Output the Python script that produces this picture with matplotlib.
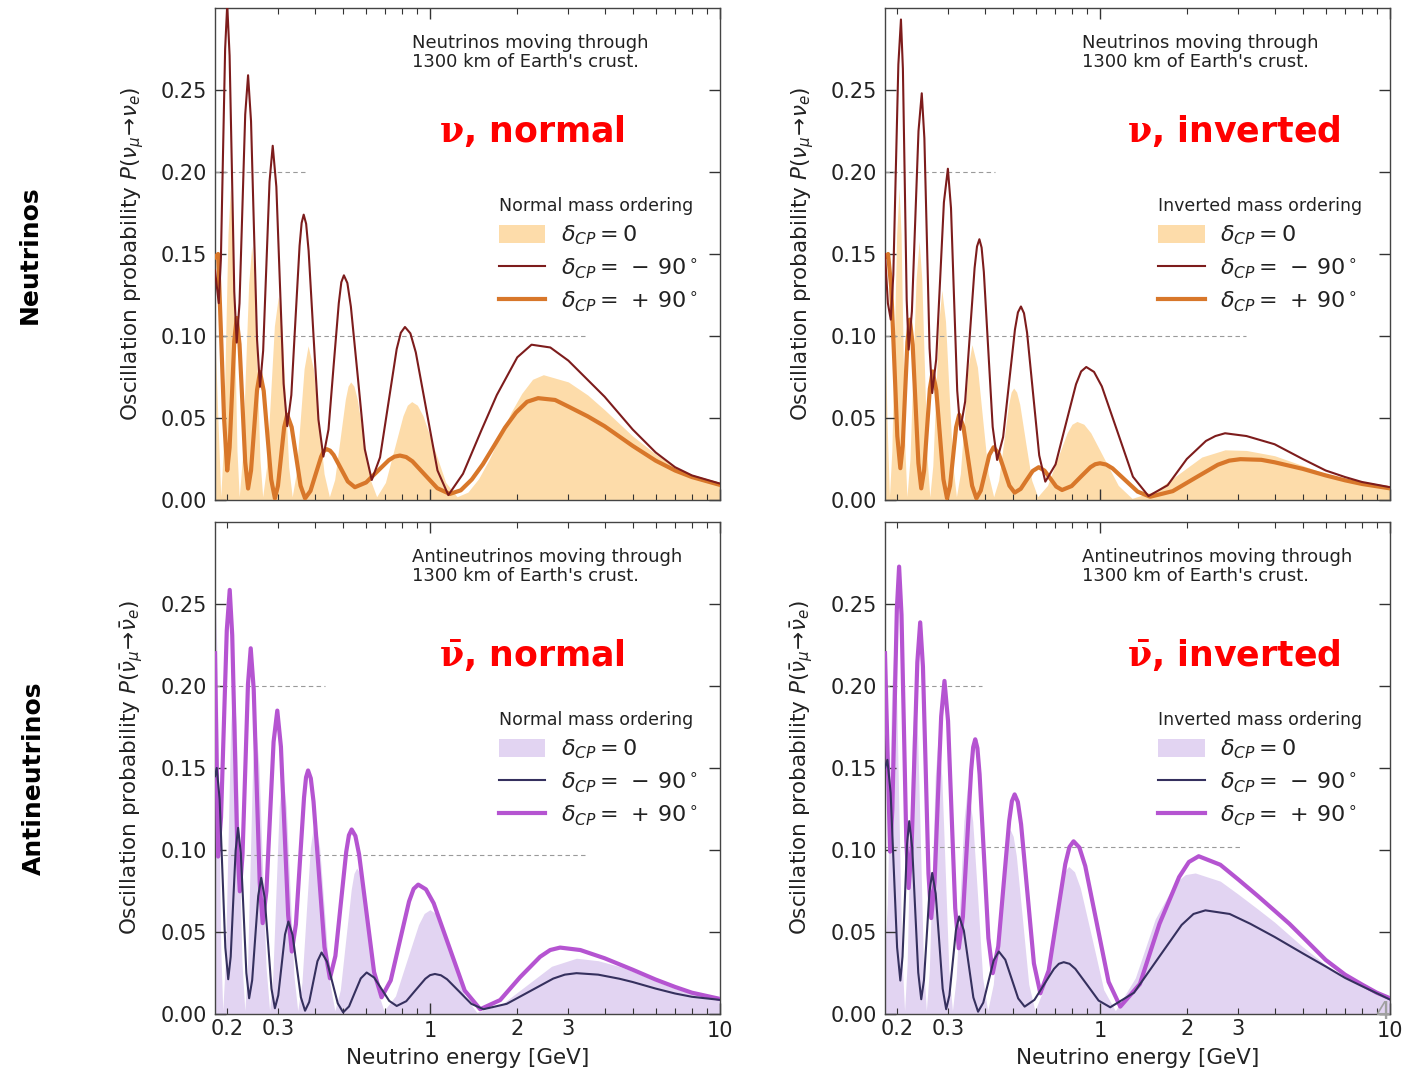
import numpy as np
import matplotlib
matplotlib.use("Agg")
import matplotlib.pyplot as plt
from matplotlib.ticker import FixedLocator, FuncFormatter
from matplotlib.patches import Patch
from matplotlib.lines import Line2D

# (energy [GeV], probability) samples for each curve

# ---- neutrinos, normal ordering
nu_no_m90 = [(0.1815, 0.14), (0.187, 0.12), (0.1902, 0.147), (0.1934, 0.211), (0.1967, 0.275), (0.200, 0.302),
             (0.2038, 0.271), (0.2077, 0.199), (0.2115, 0.127), (0.2156, 0.096), (0.2205, 0.120), (0.2256, 0.178),
             (0.2307, 0.235), (0.236, 0.259), (0.2416, 0.231), (0.2474, 0.164), (0.2534, 0.098), (0.2594, 0.069),
             (0.2660, 0.091), (0.2729, 0.143), (0.2798, 0.194), (0.287, 0.216), (0.2954, 0.191), (0.3040, 0.131),
             (0.3129, 0.071), (0.322, 0.045), (0.3327, 0.064), (0.3438, 0.110), (0.3552, 0.155), (0.3611, 0.169),
             (0.367, 0.174), (0.3742, 0.1684), (0.3816, 0.152), (0.3968, 0.100), (0.4126, 0.049), (0.429, 0.0265),
             (0.4469, 0.043), (0.4655, 0.082), (0.4849, 0.120), (0.4948, 0.1328), (0.505, 0.137), (0.5191, 0.1323),
             (0.5337, 0.118), (0.5640, 0.075), (0.5961, 0.031), (0.63, 0.0122), (0.6729, 0.026), (0.7188, 0.059),
             (0.7678, 0.092), (0.7934, 0.102), (0.82, 0.1055), (0.8561, 0.1016), (0.8937, 0.090), (0.974, 0.054),
             (1.0616, 0.018), (1.157, 0.003), (1.3, 0.016), (1.5, 0.042), (1.7, 0.064), (2.0, 0.087), (2.24, 0.0947),
             (2.6, 0.093), (3.0, 0.085), (4.0, 0.063), (5.0, 0.043), (6.0, 0.029), (7.0, 0.020), (8.0, 0.015),
             (10.0, 0.010)]
nu_no_p90 = [(0.1815, 0.148), (0.186, 0.15), (0.1905, 0.10), (0.195, 0.05), (0.200, 0.018), (0.2038, 0.032),
             (0.2077, 0.0645), (0.2115, 0.097), (0.2156, 0.111), (0.2205, 0.095), (0.2256, 0.059), (0.2307, 0.023),
             (0.236, 0.007), (0.2416, 0.018), (0.2474, 0.0425), (0.2534, 0.067), (0.2594, 0.078), (0.2672, 0.0665),
             (0.2752, 0.0395), (0.2835, 0.0126), (0.292, 0.001), (0.2992, 0.0087), (0.3066, 0.0265), (0.3143, 0.0444),
             (0.322, 0.052), (0.3336, 0.0444), (0.3456, 0.0265), (0.3581, 0.0087), (0.371, 0.001), (0.3872, 0.0055),
             (0.4040, 0.016), (0.4217, 0.0265), (0.4308, 0.0299), (0.44, 0.031), (0.4525, 0.0301), (0.4654, 0.0275),
             (0.4924, 0.0194), (0.5209, 0.0113), (0.551, 0.0078), (0.6026, 0.0107), (0.6589, 0.0175), (0.7205, 0.0242),
             (0.7534, 0.0264), (0.788, 0.0271), (0.8279, 0.0262), (0.8699, 0.0236), (0.9602, 0.0154), (1.060, 0.0072),
             (1.17, 0.0037), (1.277, 0.0059), (1.394, 0.0125), (1.522, 0.0218), (1.662, 0.0329), (1.814, 0.0441),
             (1.980, 0.0533), (2.162, 0.0599), (2.36, 0.0621), (2.7, 0.061), (3.0, 0.057), (3.5, 0.051), (4.0, 0.045),
             (5.0, 0.033), (6.0, 0.024), (7.0, 0.018), (8.0, 0.014), (10.0, 0.0092)]
nu_no_0 = [(0.1815, 0.10), (0.1857, 0.05), (0.19, 0.002), (0.1936, 0.030), (0.1974, 0.096), (0.2012, 0.162),
           (0.205, 0.19), (0.2087, 0.162), (0.2124, 0.096), (0.2161, 0.030), (0.22, 0.002), (0.2255, 0.025),
           (0.2312, 0.0785), (0.2371, 0.132), (0.243, 0.155), (0.2484, 0.132), (0.2538, 0.0785), (0.2593, 0.025),
           (0.265, 0.002), (0.2733, 0.020), (0.2820, 0.063), (0.2908, 0.106), (0.30, 0.124), (0.3083, 0.106),
           (0.3170, 0.063), (0.3259, 0.020), (0.335, 0.002), (0.3457, 0.016), (0.3568, 0.048), (0.3682, 0.080),
           (0.38, 0.094), (0.3964, 0.080), (0.4135, 0.048), (0.4314, 0.016), (0.45, 0.002), (0.4694, 0.0125),
           (0.4897, 0.037), (0.5109, 0.0615), (0.5218, 0.0694), (0.533, 0.072), (0.5469, 0.0694), (0.5614, 0.0615),
           (0.5909, 0.037), (0.6222, 0.0125), (0.655, 0.002), (0.7022, 0.0107), (0.7527, 0.031), (0.8069, 0.0513),
           (0.8356, 0.0578), (0.865, 0.060), (0.9048, 0.0578), (0.9465, 0.0513), (1.0357, 0.031), (1.1333, 0.0107),
           (1.24, 0.002), (1.3509, 0.0048), (1.4716, 0.013), (1.6032, 0.025), (1.7466, 0.0392), (1.9029, 0.0534),
           (2.0728, 0.065), (2.2582, 0.0736), (2.46, 0.0764), (3.0, 0.072), (3.5, 0.064), (4.0, 0.055), (5.0, 0.039),
           (6.0, 0.028), (7.0, 0.020), (8.0, 0.015), (10.0, 0.0095)]

# ---- neutrinos, inverted ordering
nu_io_m90 = [(0.1815, 0.15), (0.1857, 0.12), (0.19, 0.11), (0.1939, 0.1375), (0.1978, 0.2015), (0.2018, 0.2655),
             (0.206, 0.293), (0.2092, 0.263), (0.2124, 0.1924), (0.2156, 0.122), (0.219, 0.0917), (0.2247, 0.115),
             (0.2307, 0.170), (0.2368, 0.225), (0.243, 0.248), (0.2481, 0.2206), (0.2533, 0.1566), (0.2585, 0.0926),
             (0.264, 0.0652), (0.2725, 0.0857), (0.2810, 0.1336), (0.2897, 0.1815), (0.299, 0.202), (0.3065, 0.178),
             (0.3141, 0.1224), (0.3220, 0.0667), (0.33, 0.0428), (0.3429, 0.060), (0.3560, 0.101), (0.3697, 0.1416),
             (0.3768, 0.1546), (0.384, 0.159), (0.3908, 0.1539), (0.3978, 0.139), (0.4120, 0.0917), (0.4267, 0.0446),
             (0.442, 0.0244), (0.4636, 0.0384), (0.4858, 0.0712), (0.5093, 0.104), (0.5214, 0.1144), (0.534, 0.118),
             (0.5471, 0.1139), (0.5607, 0.102), (0.5883, 0.0646), (0.6174, 0.0272), (0.648, 0.0112), (0.7029, 0.0217),
             (0.7624, 0.0462), (0.8270, 0.0706), (0.8612, 0.0784), (0.897, 0.0811), (0.9541, 0.0781), (1.0149, 0.0693),
             (1.1483, 0.0418), (1.2992, 0.0142), (1.47, 0.0024), (1.7113, 0.0090), (1.9923, 0.025), (2.3192, 0.036),
             (2.5, 0.039), (2.7, 0.0407), (3.2, 0.039), (4.0, 0.034), (5.0, 0.025), (6.0, 0.018), (7.0, 0.014),
             (8.0, 0.011), (10.0, 0.0078)]
nu_io_p90 = [(0.1815, 0.148), (0.186, 0.15), (0.1906, 0.130), (0.1953, 0.085), (0.2001, 0.039), (0.205, 0.0194),
             (0.2089, 0.033), (0.2128, 0.0647), (0.2169, 0.0964), (0.221, 0.110), (0.2261, 0.0946), (0.2313, 0.0586),
             (0.2366, 0.0225), (0.242, 0.0071), (0.2475, 0.0178), (0.2532, 0.0428), (0.2591, 0.0677), (0.265, 0.0784),
             (0.2727, 0.0668), (0.2806, 0.0397), (0.2886, 0.0126), (0.297, 0.001), (0.3042, 0.0087), (0.3116, 0.0265),
             (0.3192, 0.0444), (0.327, 0.052), (0.3384, 0.0444), (0.3502, 0.0265), (0.3624, 0.0087), (0.375, 0.001),
             (0.3881, 0.0057), (0.4016, 0.0166), (0.4155, 0.0275), (0.43, 0.0322), (0.4482, 0.0280), (0.4674, 0.0184),
             (0.4874, 0.0087), (0.508, 0.0045), (0.5331, 0.0068), (0.5590, 0.0123), (0.5863, 0.0177), (0.615, 0.020),
             (0.6439, 0.0179), (0.6746, 0.0131), (0.7066, 0.0082), (0.74, 0.0061), (0.7986, 0.0085), (0.8602, 0.0143),
             (0.9272, 0.0200), (0.963, 0.0218), (1.0, 0.0224), (1.0511, 0.0216), (1.1049, 0.0193), (1.2207, 0.0122),
             (1.3486, 0.0051), (1.49, 0.002), (1.7823, 0.0054), (2.1318, 0.0135), (2.5498, 0.0215), (2.7908, 0.024),
             (3.05, 0.0249), (3.6, 0.0245), (4.0, 0.023), (5.0, 0.019), (6.0, 0.015), (7.0, 0.012), (8.0, 0.0098),
             (10.0, 0.0071)]
nu_io_0 = [(0.1815, 0.10), (0.1847, 0.045), (0.188, 0.002), (0.1916, 0.030), (0.1954, 0.096), (0.1991, 0.162),
           (0.203, 0.19), (0.2062, 0.162), (0.2094, 0.096), (0.2127, 0.030), (0.216, 0.002), (0.2213, 0.025),
           (0.2267, 0.080), (0.2323, 0.1345), (0.238, 0.158), (0.2431, 0.1345), (0.2483, 0.080), (0.2536, 0.025),
           (0.259, 0.002), (0.2653, 0.021), (0.2717, 0.065), (0.2783, 0.109), (0.285, 0.128), (0.2934, 0.109),
           (0.3020, 0.065), (0.3109, 0.021), (0.32, 0.002), (0.3300, 0.016), (0.3404, 0.0484), (0.3510, 0.081),
           (0.362, 0.0947), (0.3780, 0.081), (0.3945, 0.0484), (0.4119, 0.016), (0.43, 0.002), (0.4474, 0.012),
           (0.4655, 0.035), (0.4844, 0.0584), (0.4941, 0.0658), (0.504, 0.0683), (0.5161, 0.0658), (0.5289, 0.0584),
           (0.5545, 0.035), (0.5817, 0.012), (0.61, 0.002), (0.6594, 0.0089), (0.7128, 0.0249), (0.7706, 0.0410),
           (0.801, 0.0462), (0.833, 0.0479), (0.8798, 0.0462), (0.9292, 0.041), (1.0366, 0.0249), (1.1564, 0.0089),
           (1.29, 0.001), (1.5516, 0.0054), (1.8662, 0.0158), (2.2447, 0.0262), (2.7, 0.0306), (3.2, 0.0302),
           (4.0, 0.027), (5.0, 0.021), (6.0, 0.016), (7.0, 0.013), (8.0, 0.0105), (10.0, 0.0075)]

# ---- antineutrinos, normal ordering
nub_no_m90 = [(0.1815, 0.145), (0.184, 0.15), (0.1883, 0.131), (0.1926, 0.0856), (0.1970, 0.0405), (0.2016, 0.0212),
              (0.2056, 0.035), (0.2096, 0.0673), (0.2138, 0.0997), (0.218, 0.1135), (0.2228, 0.098), (0.2278, 0.0616),
              (0.2328, 0.025), (0.238, 0.0096), (0.2438, 0.0206), (0.2497, 0.0463), (0.2558, 0.072), (0.262, 0.083),
              (0.2692, 0.071), (0.2766, 0.0433), (0.2842, 0.0154), (0.292, 0.0035), (0.2999, 0.0114), (0.3081, 0.030),
              (0.3164, 0.0485), (0.325, 0.0564), (0.3360, 0.0482), (0.3472, 0.0292), (0.3589, 0.0102), (0.371, 0.002),
              (0.3834, 0.0073), (0.3962, 0.0198), (0.4094, 0.0322), (0.423, 0.0375), (0.4415, 0.032), (0.4608, 0.0193),
              (0.4810, 0.0065), (0.502, 0.001), (0.5260, 0.0046), (0.5511, 0.0132), (0.5774, 0.0217), (0.605, 0.0253),
              (0.6422, 0.0222), (0.6817, 0.0151), (0.7236, 0.008), (0.768, 0.0049), (0.8284, 0.0078), (0.8937, 0.0147),
              (0.9640, 0.0215), (1.0012, 0.0237), (1.04, 0.0244), (1.0915, 0.0236), (1.1451, 0.0212), (1.2614, 0.0137),
              (1.3889, 0.0062), (1.53, 0.0029), (1.8398, 0.0062), (2.2127, 0.0139), (2.6607, 0.0216), (2.9172, 0.024),
              (3.2, 0.0249), (3.8, 0.024), (4.5, 0.0215), (5.0, 0.0195), (6.0, 0.0155), (7.0, 0.0125), (8.0, 0.0105),
              (10.0, 0.0086)]
nub_no_p90 = [(0.1815, 0.22), (0.186, 0.096), (0.1904, 0.120), (0.1948, 0.177), (0.1993, 0.234), (0.204, 0.2586),
              (0.2081, 0.231), (0.2123, 0.1667), (0.2166, 0.1024), (0.221, 0.0748), (0.2258, 0.097), (0.2308, 0.149),
              (0.2358, 0.201), (0.241, 0.223), (0.2468, 0.198), (0.2527, 0.139), (0.2588, 0.0805), (0.265, 0.0554),
              (0.2730, 0.075), (0.2808, 0.120), (0.2890, 0.166), (0.2976, 0.185), (0.3063, 0.163), (0.3153, 0.1116),
              (0.3245, 0.0601), (0.334, 0.0381), (0.3450, 0.0547), (0.3563, 0.0933), (0.3680, 0.132), (0.3739, 0.1443),
              (0.38, 0.1485), (0.3883, 0.1437), (0.3968, 0.1295), (0.4144, 0.0852), (0.4328, 0.0408), (0.452, 0.0218),
              (0.4720, 0.0354), (0.4927, 0.0672), (0.5144, 0.0989), (0.5255, 0.109), (0.537, 0.1125), (0.5532, 0.1086),
              (0.5699, 0.0972), (0.6047, 0.0614), (0.6418, 0.0255), (0.681, 0.0102), (0.7324, 0.0205), (0.7876, 0.0446),
              (0.8470, 0.0686), (0.8785, 0.0763), (0.911, 0.0789), (0.9688, 0.076), (1.0302, 0.0675), (1.1651, 0.0409),
              (1.3176, 0.0143), (1.49, 0.0029), (1.7458, 0.0085), (2.0462, 0.0225), (2.3976, 0.0349), (2.5966, 0.039),
              (2.81, 0.0405), (3.3, 0.039), (4.0, 0.034), (5.0, 0.027), (6.0, 0.021), (7.0, 0.0165), (8.0, 0.013),
              (10.0, 0.0092)]
nub_no_0 = [(0.1815, 0.26), (0.1843, 0.22), (0.1872, 0.131), (0.1900, 0.041), (0.193, 0.002), (0.1971, 0.032),
            (0.2013, 0.1045), (0.2056, 0.176), (0.21, 0.207), (0.2148, 0.176), (0.2198, 0.1045), (0.2248, 0.032),
            (0.23, 0.002), (0.2349, 0.0284), (0.2398, 0.090), (0.2448, 0.1516), (0.25, 0.178), (0.2572, 0.1516),
            (0.2646, 0.090), (0.2722, 0.0284), (0.28, 0.002), (0.2872, 0.0233), (0.2946, 0.075), (0.3022, 0.1261),
            (0.31, 0.148), (0.3195, 0.1261), (0.3294, 0.075), (0.3396, 0.0233), (0.35, 0.002), (0.3619, 0.0191),
            (0.3742, 0.0605), (0.3869, 0.1015), (0.40, 0.119), (0.4165, 0.1015), (0.4336, 0.0605), (0.4515, 0.0191),
            (0.47, 0.002), (0.4908, 0.0147), (0.5126, 0.0455), (0.5353, 0.0760), (0.547, 0.0857), (0.559, 0.089),
            (0.5743, 0.0857), (0.5901, 0.076), (0.6228, 0.0455), (0.6574, 0.0147), (0.694, 0.002), (0.7604, 0.0110),
            (0.8331, 0.0328), (0.9128, 0.0544), (0.9552, 0.0613), (1.0, 0.0636), (1.0475, 0.0612), (1.0973, 0.0543),
            (1.2042, 0.0323), (1.3214, 0.0104), (1.45, 0.001), (1.7674, 0.0059), (2.1541, 0.0175), (2.6257, 0.0291),
            (3.2, 0.034), (3.8, 0.0325), (4.5, 0.029), (5.0, 0.026), (6.0, 0.020), (7.0, 0.0155), (8.0, 0.0125),
            (10.0, 0.009)]

# ---- antineutrinos, inverted ordering
nub_io_m90 = [(0.1815, 0.15), (0.185, 0.155), (0.1898, 0.1348), (0.1947, 0.0877), (0.1998, 0.0406), (0.205, 0.0204),
              (0.2086, 0.035), (0.2124, 0.069), (0.2161, 0.103), (0.22, 0.1176), (0.2253, 0.1013), (0.2307, 0.0633),
              (0.2363, 0.0253), (0.242, 0.009), (0.2473, 0.0206), (0.2528, 0.0475), (0.2583, 0.0745), (0.264, 0.086),
              (0.2714, 0.0735), (0.2791, 0.0445), (0.2869, 0.0154), (0.295, 0.0029), (0.3027, 0.0114), (0.3106, 0.0312),
              (0.3187, 0.0510), (0.327, 0.0595), (0.3395, 0.0508), (0.3525, 0.0305), (0.3660, 0.0101), (0.38, 0.0014),
              (0.3960, 0.0069), (0.4126, 0.0198), (0.4299, 0.0326), (0.448, 0.0381), (0.4716, 0.0331), (0.4964, 0.0213),
              (0.5225, 0.0095), (0.55, 0.0045), (0.5943, 0.0086), (0.6422, 0.0181), (0.6940, 0.0275), (0.7215, 0.0306),
              (0.75, 0.0316), (0.7854, 0.0306), (0.8226, 0.0275), (0.9021, 0.0179), (0.9893, 0.0082), (1.085, 0.0041),
              (1.3105, 0.0130), (1.5832, 0.0337), (1.9123, 0.0543), (2.1015, 0.061), (2.31, 0.0632), (2.8, 0.061),
              (3.3, 0.055), (4.0, 0.047), (5.0, 0.037), (6.0, 0.029), (7.0, 0.022), (8.0, 0.017), (10.0, 0.0088)]
nub_io_p90 = [(0.1815, 0.22), (0.1852, 0.16), (0.189, 0.099), (0.1924, 0.125), (0.1959, 0.186), (0.1994, 0.2467),
              (0.203, 0.2728), (0.2069, 0.2434), (0.2109, 0.1748), (0.2149, 0.1062), (0.219, 0.0768), (0.2241, 0.1011),
              (0.2293, 0.1578), (0.2346, 0.2145), (0.240, 0.2388), (0.2453, 0.2118), (0.2508, 0.1487), (0.2563, 0.0855),
              (0.262, 0.0585), (0.2690, 0.0802), (0.2761, 0.1308), (0.2835, 0.1814), (0.291, 0.2031), (0.2994, 0.1787),
              (0.3080, 0.1216), (0.3169, 0.0646), (0.326, 0.0401), (0.3368, 0.0592), (0.3480, 0.1038), (0.3596, 0.1484),
              (0.3655, 0.1627), (0.3715, 0.1675), (0.378, 0.1621), (0.3846, 0.1461), (0.3983, 0.0962), (0.4124, 0.0463),
              (0.427, 0.0249), (0.4460, 0.0413), (0.4657, 0.0794), (0.4864, 0.1176), (0.4971, 0.1298), (0.508, 0.1339),
              (0.5211, 0.1293), (0.5346, 0.1157), (0.5626, 0.0733), (0.5920, 0.0308), (0.623, 0.0126), (0.6655, 0.0265),
              (0.7108, 0.059), (0.7593, 0.0914), (0.7847, 0.1018), (0.811, 0.1053), (0.8494, 0.1015), (0.8898, 0.0902),
              (0.9762, 0.0549), (1.0710, 0.0196), (1.175, 0.0045), (1.3729, 0.0183), (1.6041, 0.055), (1.8743, 0.0835),
              (2.026, 0.0927), (2.19, 0.0962), (2.6, 0.091), (3.0, 0.082), (3.5, 0.072), (4.0, 0.063), (4.5, 0.055),
              (5.0, 0.047), (6.0, 0.033), (7.0, 0.024), (8.0, 0.018), (9.0, 0.013), (10.0, 0.0096)]
nub_io_0 = [(0.1815, 0.04), (0.1848, 0.067), (0.1881, 0.1325), (0.1915, 0.198), (0.195, 0.225), (0.1991, 0.1917),
            (0.2033, 0.1135), (0.2076, 0.0353), (0.212, 0.002), (0.2164, 0.0306), (0.2208, 0.100), (0.2254, 0.1686),
            (0.23, 0.198), (0.2353, 0.1686), (0.2408, 0.100), (0.2463, 0.0306), (0.252, 0.002), (0.2580, 0.0265),
            (0.2642, 0.086), (0.2705, 0.1449), (0.277, 0.17), (0.2849, 0.1449), (0.2930, 0.086), (0.3014, 0.0265),
            (0.31, 0.002), (0.3195, 0.0222), (0.3294, 0.071), (0.3396, 0.1176), (0.35, 0.14), (0.3641, 0.1176),
            (0.3788, 0.071), (0.3941, 0.0222), (0.41, 0.002), (0.4287, 0.0181), (0.4482, 0.0573), (0.4686, 0.0964),
            (0.4792, 0.1083), (0.49, 0.1125), (0.5023, 0.1083), (0.5148, 0.0964), (0.5409, 0.0573), (0.5682, 0.0181),
            (0.597, 0.002), (0.6383, 0.0148), (0.6824, 0.046), (0.7297, 0.0768), (0.7543, 0.0867), (0.78, 0.09),
            (0.817, 0.0867), (0.8557, 0.0768), (0.9389, 0.046), (1.0301, 0.0148), (1.13, 0.002), (1.324, 0.022),
            (1.5514, 0.058), (1.8177, 0.080), (1.97, 0.085), (2.13, 0.086), (2.6, 0.081), (3.0, 0.073), (3.5, 0.064),
            (4.0, 0.056), (5.0, 0.041), (6.0, 0.030), (7.0, 0.022), (8.0, 0.017), (10.0, 0.009)]

# dashed guide lines: (y, energy where the dash stops)
guides_nu_no = [(0.20, 0.371), (0.10, 3.5)]
guides_nu_io = [(0.20, 0.435), (0.10, 3.2)]
guides_nub_no = [(0.20, 0.435), (0.097, 3.5)]
guides_nub_io = [(0.20, 0.392), (0.1017, 3.1)]

x_minor = [0.2, 0.3, 0.4, 0.5, 0.6, 0.7, 0.8, 0.9, 2, 3, 4, 5, 6, 7, 8, 9]
x_labelled = {0.2: "0.2", 0.3: "0.3", 1: "1", 2: "2", 3: "3", 10: "10"}
y_ticks = [0.0, 0.05, 0.10, 0.15, 0.20, 0.25]

NU = dict(fill="#fddcaa", m90="#7d1c1c", p90="#d8772a")
NUB = dict(fill="#e2d4f2", m90="#35305e", p90="#b554d1")

W, H = 1425, 1075
fig = plt.figure(figsize=(W / 100, H / 100), dpi=100)


def px_axes(x0, y0, x1, y1):
    return fig.add_axes([x0 / W, 1 - y1 / H, (x1 - x0) / W, (y1 - y0) / H])


def tick_fmt(v, pos):
    for k, s in x_labelled.items():
        if abs(v - k) < 1e-6:
            return s
    return ""


def xy(curve):
    a = np.array(curve)
    return a[:, 0], a[:, 1]


def panel(ax, fill, m90, p90, col, guides, note, tag, tag_xy, order, leg_x, ylab, bottom):
    fx, fy = xy(fill)
    ax.fill_between(fx, 0, fy, color=col["fill"], lw=0, zorder=1)
    ax.plot(*xy(p90), color=col["p90"], lw=3.0, zorder=3, solid_joinstyle="round")
    ax.plot(*xy(m90), color=col["m90"], lw=1.5, zorder=4, solid_joinstyle="round")
    for y, xe in guides:
        ax.hlines(y, 0.1815, xe, colors="#9a9a9a", linestyles=(0, (4, 3)), lw=0.8, zorder=2)

    ax.set_xscale("log")
    ax.set_xlim(0.1815, 10)
    ax.set_ylim(0, 0.30)
    ax.xaxis.set_major_locator(FixedLocator([1, 10]))
    ax.xaxis.set_minor_locator(FixedLocator(x_minor))
    ax.xaxis.set_major_formatter(FuncFormatter(tick_fmt))
    ax.xaxis.set_minor_formatter(FuncFormatter(tick_fmt))
    ax.set_yticks(y_ticks)
    ax.set_yticklabels(["%.2f" % v for v in y_ticks])
    ax.tick_params(which="both", direction="in", top=True, right=True, colors="#333333",
                   labelcolor="#222222", labelsize=15)
    ax.tick_params(which="major", length=8, width=1.0)
    ax.tick_params(which="minor", length=4, width=0.8)
    ax.tick_params(axis="y", pad=6)
    ax.tick_params(axis="x", pad=5)
    for s in ax.spines.values():
        s.set_color("#444444")
        s.set_linewidth(1.0)
    if bottom:
        ax.set_xlabel("Neutrino energy [GeV]", fontsize=15.5, color="#222222", labelpad=5)
    else:
        ax.tick_params(axis="x", which="both", labelbottom=False)
    ax.set_ylabel(ylab, fontsize=15.5, color="#222222", labelpad=10)

    ax.text(0.39, 0.948, note, transform=ax.transAxes, fontsize=13, color="#222222",
            va="top", ha="left", linespacing=1.1)
    ax.text(tag_xy[0], tag_xy[1], tag, transform=ax.transAxes, fontsize=25, color="red",
            fontweight="bold", ha="center", va="center", math_fontfamily="dejavuserif")

    handles = [Patch(facecolor=col["fill"], edgecolor="none"),
               Line2D([], [], color=col["m90"], lw=1.5),
               Line2D([], [], color=col["p90"], lw=3.0)]
    labels = [r"$\delta_{CP} = 0$", r"$\delta_{CP} =\,-\,90^\circ$", r"$\delta_{CP} =\,+\,90^\circ$"]
    leg = ax.legend(handles, labels, title=order, loc="upper left", bbox_to_anchor=(leg_x, 0.616),
                    frameon=False, fontsize=16, title_fontsize=12.5, handlelength=2.1, handleheight=0.9,
                    handletextpad=0.7, labelspacing=0.4, borderpad=0, borderaxespad=0, alignment="left")
    leg.get_title().set_color("#222222")
    for t in leg.get_texts():
        t.set_color("#222222")


ylab_nu = r"Oscillation probability $P(\nu_\mu\!\rightarrow\!\nu_e)$"
ylab_nub = r"Oscillation probability $P(\bar{\nu}_\mu\!\rightarrow\!\bar{\nu}_e)$"
note_nu = "Neutrinos moving through\n1300 km of Earth's crust."
note_nub = "Antineutrinos moving through\n1300 km of Earth's crust."

ax_tl = px_axes(215, 8, 720, 500)
ax_tr = px_axes(885, 8, 1390, 500)
ax_bl = px_axes(215, 522, 720, 1014)
ax_br = px_axes(885, 522, 1390, 1014)

panel(ax_tl, nu_no_0, nu_no_m90, nu_no_p90, NU, guides_nu_no, note_nu, r"$\mathbf{\nu}$, normal",
      (0.628, 0.75), "Normal mass ordering", 0.562, ylab_nu, False)
panel(ax_tr, nu_io_0, nu_io_m90, nu_io_p90, NU, guides_nu_io, note_nu, r"$\mathbf{\nu}$, inverted",
      (0.69, 0.75), "Inverted mass ordering", 0.541, ylab_nu, False)
panel(ax_bl, nub_no_0, nub_no_m90, nub_no_p90, NUB, guides_nub_no, note_nub, r"$\mathbf{\bar{\nu}}$, normal",
      (0.628, 0.73), "Normal mass ordering", 0.562, ylab_nub, True)
panel(ax_br, nub_io_0, nub_io_m90, nub_io_p90, NUB, guides_nub_io, note_nub, r"$\mathbf{\bar{\nu}}$, inverted",
      (0.69, 0.73), "Inverted mass ordering", 0.541, ylab_nub, True)

fig.text(30 / W, 1 - 255 / H, "Neutrinos", rotation=90, fontsize=18, fontweight="bold",
         ha="center", va="center")
fig.text(34 / W, 1 - 778 / H, "Antineutrinos", rotation=90, fontsize=18, fontweight="bold",
         ha="center", va="center")
fig.text(1383 / W, 1 - 1012 / H, "4", fontsize=17, color="#a0a0a0", ha="center", va="center")

fig.savefig("out.png", dpi=100)
